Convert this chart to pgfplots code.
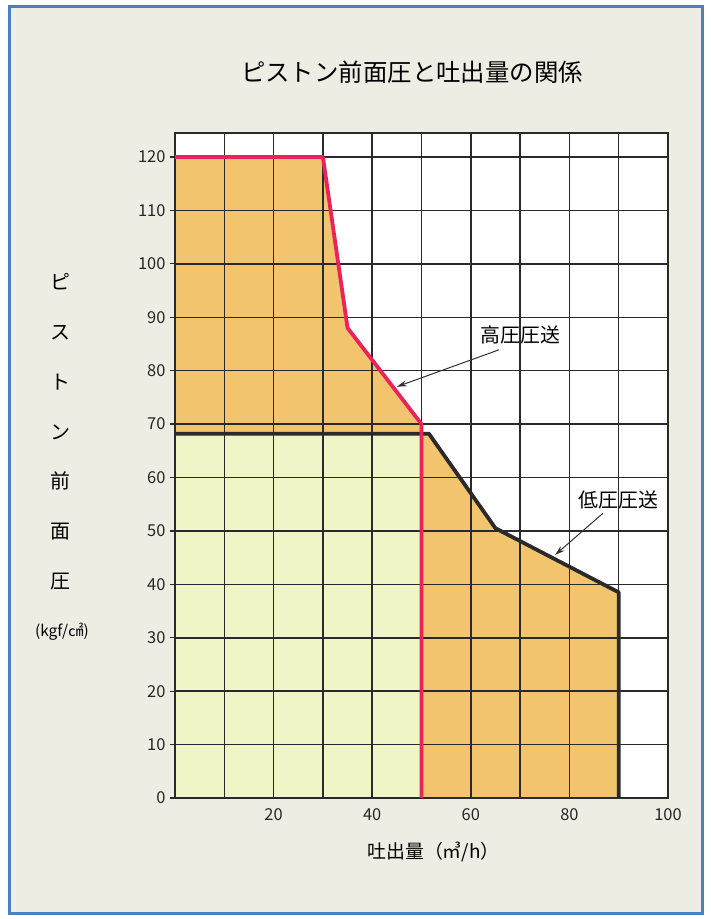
\documentclass[border=0pt]{standalone}
\usepackage{fontspec}
\setmainfont{Noto Sans CJK JP}
\usepackage{pgfplots}
\pgfplotsset{compat=1.18}
\usetikzlibrary{arrows.meta}

\definecolor{pagebg}{HTML}{EDEDE3}
\definecolor{frameblue}{HTML}{4A7FC1}
\definecolor{hiorange}{HTML}{F2C46E}
\definecolor{lowgreen}{HTML}{EFF5C6}
\definecolor{hired}{HTML}{E8245A}
\definecolor{gridc}{HTML}{2A2A2A}

\pgfplotsset{
  chartbox/.style={
    at={(175bp,121bp)}, anchor=south west,
    scale only axis,
    width=493bp, height=665bp,
    xmin=0, xmax=100, ymin=0, ymax=124.5,
  },
}

\begin{document}
\begin{tikzpicture}[x=1bp,y=1bp]
  % page and frame
  \fill[white] (0,0) rectangle (711,919);
  \fill[pagebg] (9,5) rectangle (702,912);
  \draw[frameblue, line width=3bp] (9,5) rectangle (702,912);

  % title
  \node[font=\fontsize{24.5}{26}\selectfont] at (412,847) {ピストン前面圧と吐出量の関係};

  % vertical y label
  \node[font=\fontsize{20}{50}\selectfont, align=center, anchor=north] at (60,649)
    {ピ\\ス\\ト\\ン\\前\\面\\圧};
  \node[font=\fontsize{15.5}{17}\selectfont] at (62,287) {(kgf/㎠)};

  % regions and grid
  \begin{axis}[
    chartbox,
    axis on top,
    xtick={20,40,60,80,100},
    minor xtick={10,30,50,70,90},
    ytick={0,10,...,120},
    ytick pos=left,
    grid=both,
    major grid style={gridc, line width=1.5bp},
    minor grid style={gridc, line width=1.5bp},
    axis line style={gridc, line width=1.5bp},
    axis background/.style={fill=white},
    tick align=outside,
    xtick style={draw=none},
    minor tick style={draw=none},
    ytick style={gridc, line width=1.2bp},
    major tick length=5bp,
    tick label style={font=\fontsize{16.5}{18}\selectfont, text=black!85},
    /pgf/number format/assume math mode=true,
    yticklabel style={xshift=-1bp},
    xticklabel style={yshift=-2bp},
    xlabel={吐出量（㎥/h）},
    xlabel style={font=\fontsize{19}{20}\selectfont, yshift=-14bp, xshift=12bp},
  ]
    % high pressure region (upper part)
    \addplot[fill=hiorange, draw=none] coordinates {
      (0,68.2) (0,120) (30,120) (35,88) (50,70) (50,68.2)
    } -- cycle;
    % high pressure region (right part, under low pressure line)
    \addplot[fill=hiorange, draw=none] coordinates {
      (50,0) (50,68.2) (51.5,68.2) (65,50.5) (90,38.5) (90,0)
    } -- cycle;
    % low pressure region
    \addplot[fill=lowgreen, draw=none] coordinates {
      (0,0) (0,68.2) (50,68.2) (50,0)
    } -- cycle;
  \end{axis}

  % boundary lines over the grid
  \begin{axis}[chartbox, hide axis, clip=false]
    % low pressure delivery line
    \addplot[gridc, line width=3.8bp, line join=round] coordinates {
      (0,68.2) (51.5,68.2) (65,50.5) (90,38.5) (90,0)
    };
    % high pressure delivery line
    \addplot[hired, line width=3.8bp, line join=round] coordinates {
      (0,120) (30,120) (35,88) (50,70) (50,0)
    };

    % annotations
    \node[font=\fontsize{20}{22}\selectfont] at (axis cs:70,86.7) {高圧圧送};
    \draw[-{Stealth[length=10bp,width=6bp]}, black!80, line width=1bp]
      (axis cs:65.7,83.9) -- (axis cs:45,77);
    \node[font=\fontsize{20}{22}\selectfont] at (axis cs:90,55.8) {低圧圧送};
    \draw[-{Stealth[length=10bp,width=6bp]}, black!80, line width=1bp]
      (axis cs:86.8,53.3) -- (axis cs:77.1,45.5);
  \end{axis}
\end{tikzpicture}
\end{document}
